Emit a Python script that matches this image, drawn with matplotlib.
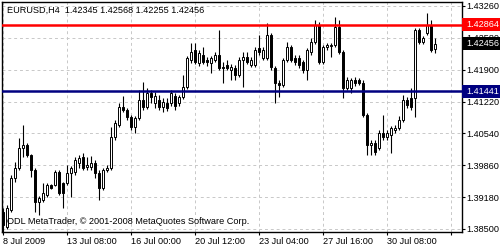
import matplotlib
matplotlib.use("Agg")
import matplotlib.pyplot as plt
from matplotlib.patches import Rectangle
from matplotlib.transforms import blended_transform_factory

plt.rcParams["font.family"] = ["Liberation Sans", "DejaVu Sans"]
plt.rcParams["font.size"] = 6.6

symbol = "EURUSD,H4"

# H4 candles, oldest first
opens = [1.38862, 1.38541, 1.38905, 1.39588, 1.39801, 1.40228, 1.40292, 1.40079, 1.39759, 1.39075,
         1.39118, 1.39224, 1.39438, 1.39438, 1.39716, 1.39481, 1.39481, 1.39695, 1.39716, 1.39908,
         1.40036, 1.39823, 1.39823, 1.39908, 1.39695, 1.39374, 1.39759, 1.39801, 1.40463, 1.40719,
         1.41104, 1.41040, 1.40890, 1.40677, 1.40869, 1.41253, 1.41104, 1.41402, 1.41189, 1.41253,
         1.41104, 1.41189, 1.41189, 1.41338, 1.41189, 1.41317, 1.41531, 1.42107, 1.42321, 1.42043,
         1.42214, 1.42107, 1.42043, 1.42107, 1.42214, 1.41958, 1.42000, 1.41894, 1.41936, 1.41787,
         1.42107, 1.42171, 1.42000, 1.42000, 1.42363, 1.42150, 1.42150, 1.42641, 1.41936, 1.41616,
         1.41573, 1.42107, 1.42385, 1.42150, 1.42150, 1.42064, 1.41894, 1.42278, 1.42491, 1.42854,
         1.42064, 1.42385, 1.42406, 1.42427, 1.42812, 1.42278, 1.41509, 1.41509, 1.41680, 1.41680,
         1.41616, 1.40933, 1.40292, 1.40335, 1.40228, 1.40548, 1.40463, 1.40506, 1.40613, 1.40655,
         1.40826, 1.41253, 1.41296, 1.41296, 1.42748, 1.42491, 1.42683, 1.42854, 1.42345]
highs = [1.38947, 1.39011, 1.39652, 1.39929, 1.40442, 1.40719, 1.40335, 1.40100, 1.39801, 1.39203,
         1.39481, 1.39481, 1.39460, 1.39759, 1.39759, 1.39502, 1.39865, 1.39844, 1.40036, 1.40079,
         1.40121, 1.40036, 1.40057, 1.39972, 1.39759, 1.39801, 1.39865, 1.40677, 1.40826, 1.41189,
         1.41338, 1.41082, 1.40933, 1.40911, 1.41467, 1.41637, 1.41509, 1.41467, 1.41424, 1.41360,
         1.41296, 1.41296, 1.41467, 1.41402, 1.41360, 1.41787, 1.42192, 1.42470, 1.42470, 1.42321,
         1.42385, 1.42171, 1.42192, 1.42278, 1.42748, 1.42064, 1.42107, 1.42022, 1.42000, 1.42171,
         1.42278, 1.42278, 1.42171, 1.42385, 1.42641, 1.42385, 1.42897, 1.42683, 1.41979, 1.41680,
         1.42150, 1.42491, 1.42427, 1.42214, 1.42214, 1.42107, 1.42363, 1.42577, 1.42961, 1.42918,
         1.42427, 1.42470, 1.42470, 1.43025, 1.42961, 1.42321, 1.41744, 1.41723, 1.41744, 1.41723,
         1.41680, 1.40975, 1.40399, 1.40399, 1.40613, 1.40933, 1.40613, 1.40698, 1.40719, 1.40911,
         1.41360, 1.41317, 1.41509, 1.42790, 1.42790, 1.42619, 1.43110, 1.42961, 1.42568]
lows = [1.38435, 1.38499, 1.38862, 1.39502, 1.39759, 1.40036, 1.40036, 1.39609, 1.38862, 1.38798,
        1.39075, 1.39182, 1.39352, 1.39417, 1.39224, 1.38947, 1.39438, 1.39182, 1.39652, 1.39801,
        1.39759, 1.39759, 1.39759, 1.39588, 1.39118, 1.39332, 1.39716, 1.39759, 1.40399, 1.40677,
        1.40997, 1.40826, 1.40613, 1.40548, 1.40826, 1.41040, 1.41061, 1.41189, 1.41082, 1.41040,
        1.40997, 1.41018, 1.41125, 1.41040, 1.41125, 1.41274, 1.41488, 1.42043, 1.42022, 1.41979,
        1.42022, 1.41979, 1.41829, 1.42064, 1.41894, 1.41616, 1.41894, 1.41680, 1.41680, 1.41744,
        1.41531, 1.42022, 1.41958, 1.41958, 1.42214, 1.42107, 1.42107, 1.41894, 1.41189, 1.41317,
        1.41531, 1.42064, 1.42064, 1.42000, 1.41936, 1.41829, 1.41680, 1.42214, 1.42449, 1.42022,
        1.42022, 1.42321, 1.42171, 1.42385, 1.42235, 1.41296, 1.41467, 1.41402, 1.41552, 1.41573,
        1.40890, 1.40079, 1.40079, 1.40079, 1.40186, 1.40399, 1.40399, 1.40121, 1.40548, 1.40613,
        1.40783, 1.41082, 1.41040, 1.40890, 1.42449, 1.42449, 1.42641, 1.42278, 1.42255]
closes = [1.38584, 1.38947, 1.39588, 1.39801, 1.40228, 1.40292, 1.40079, 1.39759, 1.39075, 1.39161,
          1.39267, 1.39438, 1.39374, 1.39716, 1.39267, 1.39267, 1.39695, 1.39801, 1.39972, 1.40015,
          1.39801, 1.39865, 1.39908, 1.39695, 1.39374, 1.39759, 1.39801, 1.40463, 1.40762, 1.41104,
          1.41040, 1.40890, 1.40677, 1.40869, 1.41253, 1.41104, 1.41402, 1.41317, 1.41338, 1.41104,
          1.41210, 1.41082, 1.41402, 1.41125, 1.41317, 1.41531, 1.42150, 1.42278, 1.42064, 1.42257,
          1.42064, 1.42064, 1.42150, 1.42214, 1.41936, 1.41936, 1.41936, 1.41958, 1.41787, 1.42107,
          1.42171, 1.42064, 1.42107, 1.42321, 1.42278, 1.42321, 1.42641, 1.41958, 1.41616, 1.41573,
          1.42107, 1.42385, 1.42107, 1.42064, 1.42000, 1.41894, 1.42321, 1.42491, 1.42854, 1.42064,
          1.42385, 1.42427, 1.42427, 1.42812, 1.42278, 1.41509, 1.41680, 1.41680, 1.41616, 1.41616,
          1.40933, 1.40292, 1.40335, 1.40143, 1.40548, 1.40463, 1.40548, 1.40655, 1.40655, 1.40826,
          1.41253, 1.41146, 1.41104, 1.42748, 1.42491, 1.42577, 1.42854, 1.42321, 1.42456]

date_ticks = [0, 16, 32, 48, 64, 80, 96, 112]
date_labels = ["8 Jul 2009", "13 Jul 08:00", "16 Jul 00:00", "20 Jul 12:00",
               "23 Jul 04:00", "27 Jul 16:00", "30 Jul 08:00", ""]
price_ticks = [1.43260, 1.42580, 1.41900, 1.41220, 1.40540, 1.39860, 1.39180, 1.38500]

resistance = 1.42864
support = 1.41441

fig = plt.figure(figsize=(5, 2.5), dpi=100)
ax = fig.add_axes([2 / 500, 18 / 250, 460 / 500, 230 / 250])

for i in range(len(opens)):
    o, h, l, c = opens[i], highs[i], lows[i], closes[i]
    ax.vlines(i, l, h, color="black", linewidth=0.8, zorder=3)
    body = max(abs(c - o), 0.00004)
    ax.bar(i, body, bottom=min(o, c), width=0.55,
           color="white" if c >= o else "black",
           edgecolor="black", linewidth=0.7, zorder=4)

ax.axhline(resistance, color="#ff0000", linewidth=1.8, zorder=5)
ax.axhline(support, color="#000080", linewidth=1.8, zorder=5)

ax.set_xlim(-0.25, 114.75)
ax.set_ylim(1.38435, 1.43345)

ax.grid(True, color="#c8c8c8", linestyle=(0, (3, 3)), linewidth=0.7)
ax.set_axisbelow(True)
for sp in ax.spines.values():
    sp.set_color("black")
    sp.set_linewidth(1.0)

ax.yaxis.tick_right()
ax.set_yticks(price_ticks)
ax.set_yticklabels(["%.5f" % p for p in price_ticks])
ax.set_xticks(date_ticks)
ax.set_xticklabels(date_labels, ha="left")
ax.tick_params(axis="y", direction="out", length=2.2, pad=0.8, width=0.8)
ax.tick_params(axis="x", direction="out", length=2.2, pad=1.2, width=0.8)

# price tags on the right scale
tr = blended_transform_factory(fig.transFigure, ax.transData)
half = 6.5 * 0.0002135
for price, col in [(resistance, "#ff0000"), (closes[-1], "black"), (support, "#000080")]:
    ax.add_patch(Rectangle((462 / 500, price - half), 38 / 500, 2 * half,
                           transform=tr, facecolor=col, edgecolor="none",
                           clip_on=False, zorder=10))
    ax.text(466 / 500, price, "%.5f" % price, transform=tr, color="white",
            va="center", ha="left", zorder=11, clip_on=False)

fig.text(7 / 500, 1 - 10 / 250,
         "%s  %.5f %.5f %.5f %.5f" % (symbol, opens[-1], highs[-1], lows[-1], closes[-1]),
         va="center", ha="left")
fig.text(7 / 500, 1 - 222 / 250,
         "ODL MetaTrader, \u00a9 2001-2008 MetaQuotes Software Corp.",
         va="center", ha="left")

fig.savefig("out.png", dpi=100)
